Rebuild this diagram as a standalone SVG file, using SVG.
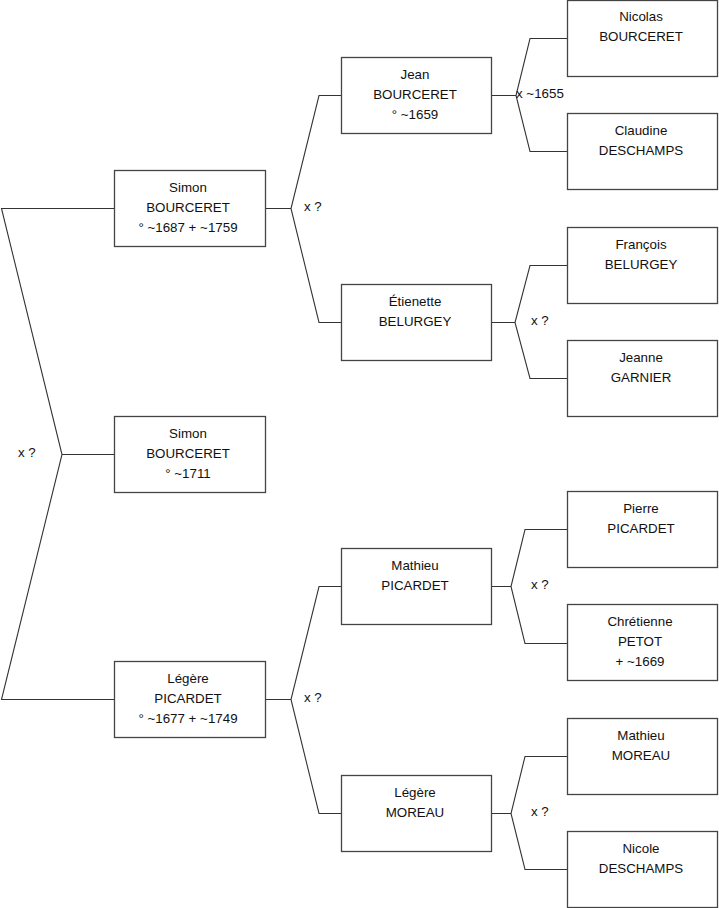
<svg xmlns="http://www.w3.org/2000/svg" width="719" height="908" viewBox="0 0 719 908">
<style>
  .box rect { fill: #ffffff; stroke: #444444; stroke-width: 1.3; }
  .box text, .lbl { font-family: "Liberation Sans", Arial, sans-serif; font-size: 13.33px; fill: #111111; }
  .box text { text-anchor: middle; }
  #connectors path { fill: none; stroke: #333333; stroke-width: 1.1; }
</style>
<rect x="0" y="0" width="719" height="908" fill="#ffffff"/>
<g id="connectors">
  <path d="M114,208.5 H1.5 L62,454.5 L1.5,699.5 H114 M62,454.5 H114"/>
  <path d="M265,208.5 H291 M341,95.5 H319 L291,208.5 L319,322.5 H341"/>
  <path d="M265,699.5 H291 M341,586.5 H319 L291,699.5 L319,813.5 H341"/>
  <path d="M492,95.5 H516 M567,38.5 H530 L516,95.5 L530,151.5 H567"/>
  <path d="M492,322.5 H515 M567,265.5 H530 L515,322.5 L530,378.5 H567"/>
  <path d="M492,586.5 H511 M567,529.5 H525 L511,586.5 L525,643.5 H567"/>
  <path d="M492,813.5 H511 M567,756.5 H525 L511,813.5 L525,869.5 H567"/>
  <text class="lbl" x="18" y="457">x ?</text>
  <text class="lbl" x="304" y="211">x ?</text>
  <text class="lbl" x="304" y="702">x ?</text>
  <text class="lbl" x="516" y="98">x ~1655</text>
  <text class="lbl" x="531" y="325">x ?</text>
  <text class="lbl" x="531" y="589">x ?</text>
  <text class="lbl" x="531" y="816">x ?</text>
</g>
<g id="simon-bourceret-1687" class="box">
  <rect x="114.5" y="170.5" width="151" height="76"/>
  <text x="188" y="192">Simon</text><text x="188" y="212">BOURCERET</text><text x="188" y="232">° ~1687 + ~1759</text>
</g>
<g id="simon-bourceret-1711" class="box">
  <rect x="114.5" y="416.5" width="151" height="76"/>
  <text x="188" y="438">Simon</text><text x="188" y="458">BOURCERET</text><text x="188" y="478">° ~1711</text>
</g>
<g id="legere-picardet" class="box">
  <rect x="114.5" y="661.5" width="151" height="76"/>
  <text x="188" y="683">Légère</text><text x="188" y="703">PICARDET</text><text x="188" y="723">° ~1677 + ~1749</text>
</g>
<g id="jean-bourceret" class="box">
  <rect x="341.5" y="57.5" width="150" height="76"/>
  <text x="415" y="79">Jean</text><text x="415" y="99">BOURCERET</text><text x="415" y="119">° ~1659</text>
</g>
<g id="etienette-belurgey" class="box">
  <rect x="341.5" y="284.5" width="150" height="76"/>
  <text x="415" y="306">Étienette</text><text x="415" y="326">BELURGEY</text>
</g>
<g id="mathieu-picardet" class="box">
  <rect x="341.5" y="548.5" width="150" height="76"/>
  <text x="415" y="570">Mathieu</text><text x="415" y="590">PICARDET</text>
</g>
<g id="legere-moreau" class="box">
  <rect x="341.5" y="775.5" width="150" height="76"/>
  <text x="415" y="797">Légère</text><text x="415" y="817">MOREAU</text>
</g>
<g id="nicolas-bourceret" class="box">
  <rect x="567.5" y="0.5" width="150" height="76"/>
  <text x="641" y="21">Nicolas</text><text x="641" y="41">BOURCERET</text>
</g>
<g id="claudine-deschamps" class="box">
  <rect x="567.5" y="113.5" width="150" height="76"/>
  <text x="641" y="135">Claudine</text><text x="641" y="155">DESCHAMPS</text>
</g>
<g id="francois-belurgey" class="box">
  <rect x="567.5" y="227.5" width="150" height="76"/>
  <text x="641" y="249">François</text><text x="641" y="269">BELURGEY</text>
</g>
<g id="jeanne-garnier" class="box">
  <rect x="567.5" y="340.5" width="150" height="76"/>
  <text x="641" y="362">Jeanne</text><text x="641" y="382">GARNIER</text>
</g>
<g id="pierre-picardet" class="box">
  <rect x="567.5" y="491.5" width="150" height="76"/>
  <text x="641" y="513">Pierre</text><text x="641" y="533">PICARDET</text>
</g>
<g id="chretienne-petot" class="box">
  <rect x="567.5" y="604.5" width="150" height="76"/>
  <text x="640" y="626">Chrétienne</text><text x="640" y="646">PETOT</text><text x="640" y="666">+ ~1669</text>
</g>
<g id="mathieu-moreau" class="box">
  <rect x="567.5" y="718.5" width="150" height="76"/>
  <text x="641" y="740">Mathieu</text><text x="641" y="760">MOREAU</text>
</g>
<g id="nicole-deschamps" class="box">
  <rect x="567.5" y="831.5" width="150" height="76"/>
  <text x="641" y="853">Nicole</text><text x="641" y="873">DESCHAMPS</text>
</g>
</svg>
